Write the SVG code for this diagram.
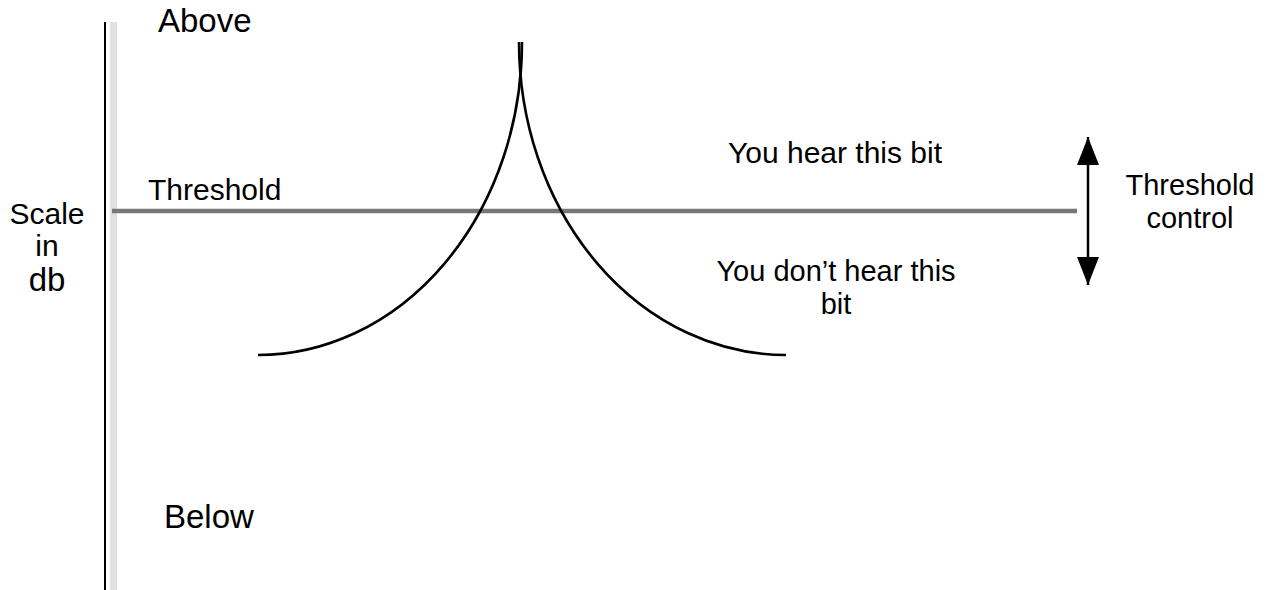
<svg xmlns="http://www.w3.org/2000/svg" width="1268" height="590" viewBox="0 0 1268 590">
<style>
text{font-family:"Liberation Sans",Arial,sans-serif;font-size:30px;fill:#000}
.mid{text-anchor:middle}
.big{font-size:33px}
.two{font-size:29px}
.curve{fill:none;stroke:#000;stroke-width:2.6}
</style>
<defs>
<marker id="head" viewBox="0 0 28 22" refX="28" refY="11" markerWidth="28" markerHeight="22" markerUnits="userSpaceOnUse" orient="auto-start-reverse">
<path d="M0,0 L28,11 L0,22 Z" fill="#000"/>
</marker>
</defs>
<rect width="1268" height="590" fill="#fff"/>
<g id="axis">
<rect x="110" y="22" width="7" height="568" fill="#e0e0e0"/>
<line x1="105" y1="22" x2="105" y2="590" stroke="#000" stroke-width="2"/>
</g>
<g id="threshold-line">
<line x1="112" y1="211" x2="1077" y2="211" stroke="#777" stroke-width="4.5"/>
</g>
<g id="curves">
<path class="curve" d="M258,355 A264,313 0 0,0 522,42"/>
<path class="curve" d="M519,42 A267,313 0 0,0 786,355"/>
</g>
<g id="connectors">
<line id="threshold-control-arrow" x1="1088" y1="137" x2="1088" y2="285" stroke="#000" stroke-width="2.5" marker-start="url(#head)" marker-end="url(#head)"/>
</g>
<g id="label-scale">
<text class="mid" x="47" y="224">Scale</text>
<text class="mid" x="47" y="256">in</text>
<text class="mid big" x="47" y="291">db</text>
</g>
<g id="label-above"><text class="big" x="158" y="32">Above</text></g>
<g id="label-threshold"><text x="148" y="200">Threshold</text></g>
<g id="label-below"><text class="big" x="164" y="528">Below</text></g>
<g id="label-hear"><text x="728" y="163">You hear this bit</text></g>
<g id="label-dont-hear">
<text class="mid two" x="836" y="281">You don’t hear this</text>
<text class="mid two" x="836" y="314">bit</text>
</g>
<g id="label-threshold-control">
<text class="mid two" x="1190" y="195">Threshold</text>
<text class="mid two" x="1190" y="228">control</text>
</g>
</svg>
